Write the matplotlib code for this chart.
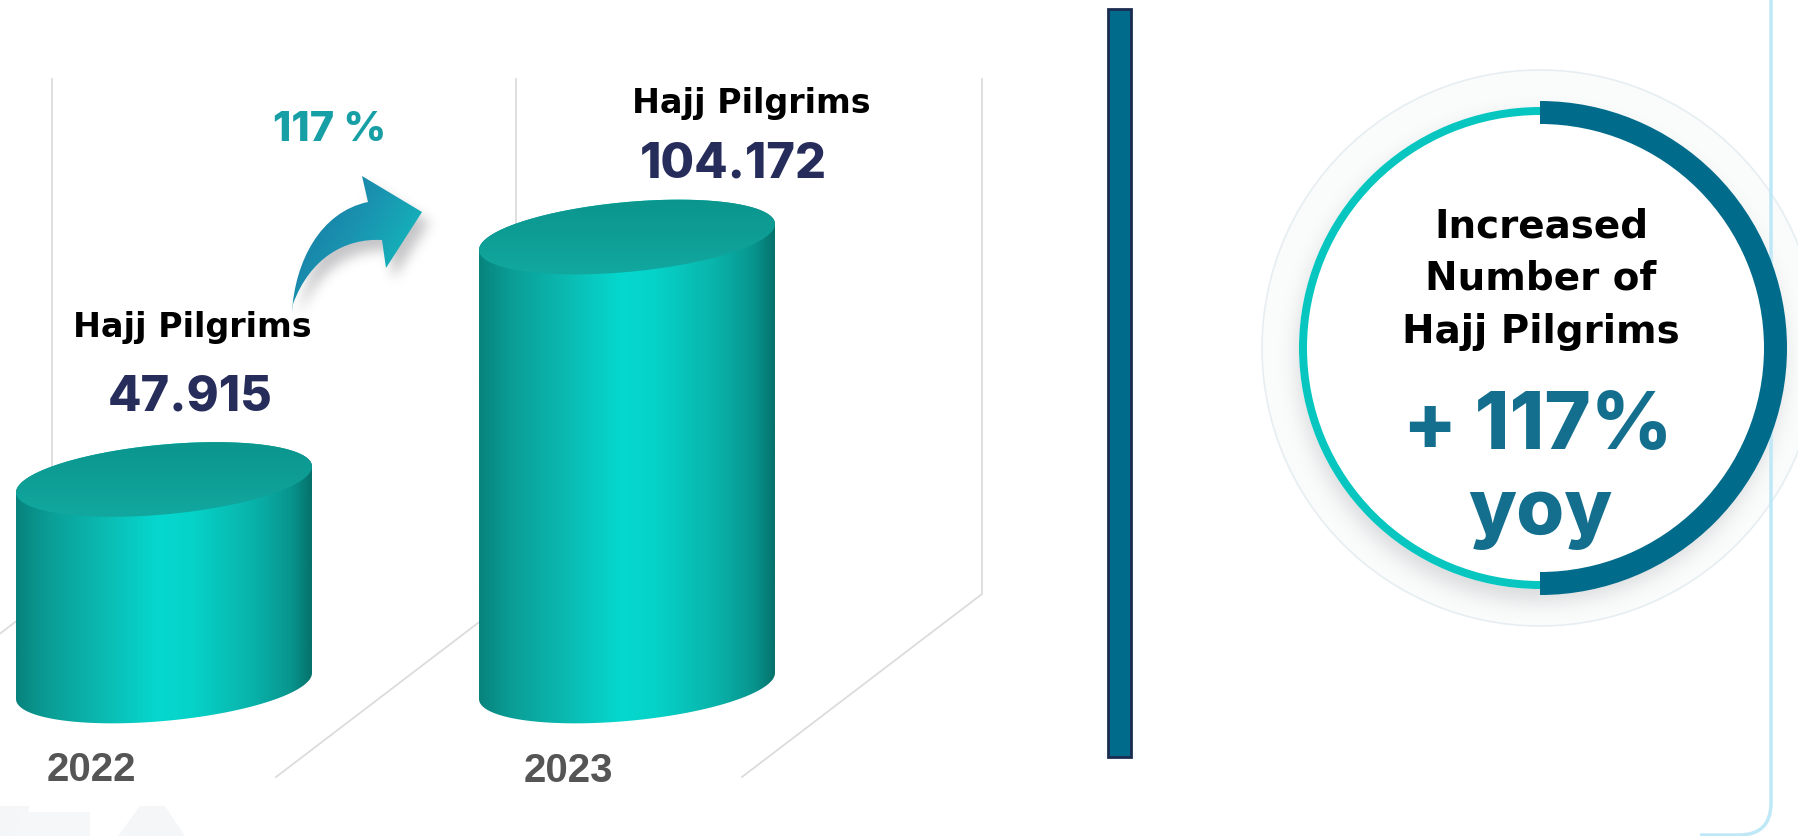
import numpy as np
import matplotlib
matplotlib.use("Agg")
import matplotlib.pyplot as plt
from matplotlib.colors import LinearSegmentedColormap
from matplotlib.patches import Circle, PathPatch, Polygon, Rectangle, Wedge
from matplotlib.path import Path

# Hajj pilgrims (thousands) by year
years = ["2022", "2023"]
pilgrims = [47.915, 104.172]
series_label = "Hajj Pilgrims"
growth_label = "117 %"
kpi_title = ["Increased", "Number of", "Hajj Pilgrims"]
kpi_value = "+ 117%"
kpi_unit = "yoy"

W, H = 1799, 836
NUM_FONT = ["Inter", "DejaVu Sans"]
TXT_FONT = ["DejaVu Sans"]
NAVY = "#272d5a"
DEEP = "#006b8a"
TEAL = "#07c6c0"

# cylinder layout (pixels): category spacing, value scale, floor line
CAT_X0, CAT_STEP = 164, 463
FLOOR_Y, PX_PER_VAL = 686, 4.31
RX = 148 / CAT_STEP          # half width in category units
RY = 35 / PX_PER_VAL         # ellipse half height in value units
SHEAR = 13 / PX_PER_VAL      # perspective tilt of the caps

fig = plt.figure(figsize=(W / 100, H / 100), dpi=100)
bg = fig.add_axes([0, 0, 1, 1])
bg.axis("off")
ax = fig.add_axes([0, 0, 1, 1])
ax.patch.set_alpha(0)
ax.axis("off")


def reset_limits():
    bg.set_xlim(0, W)
    bg.set_ylim(H, 0)
    ax.set_xlim(-CAT_X0 / CAT_STEP, (W - CAT_X0) / CAT_STEP)
    ax.set_ylim((FLOOR_Y - H) / PX_PER_VAL, FLOOR_Y / PX_PER_VAL)


def gradient(axis, clip, extent, stops, horizontal=True, zorder=2):
    cmap = LinearSegmentedColormap.from_list("g", stops)
    g = np.linspace(0, 1, 256)
    img = g[None, :] if horizontal else g[:, None]
    im = axis.imshow(img, cmap=cmap, extent=extent, aspect="auto", origin="lower",
                     interpolation="bilinear", zorder=zorder)
    im.set_clip_path(clip)


def soft_shadow(path, offset, sigma, alpha, color=(0.35, 0.35, 0.38), zorder=1):
    ext = path.get_extents()
    pad = 4 * sigma
    x0, x1 = ext.x0 - pad + offset[0], ext.x1 + pad + offset[0]
    y0, y1 = ext.y0 - pad + offset[1], ext.y1 + pad + offset[1]
    X, Y = np.meshgrid(np.arange(x0, x1), np.arange(y0, y1))
    pts = np.column_stack([X.ravel() - offset[0], Y.ravel() - offset[1]])
    m = path.contains_points(pts).reshape(X.shape).astype(float)
    k = np.exp(-0.5 * (np.arange(-3 * sigma, 3 * sigma + 1) / sigma) ** 2)
    k /= k.sum()
    m = np.apply_along_axis(lambda r: np.convolve(r, k, mode="same"), 1, m)
    m = np.apply_along_axis(lambda c: np.convolve(c, k, mode="same"), 0, m)
    rgba = np.zeros(m.shape + (4,))
    rgba[..., :3] = color
    rgba[..., 3] = m * alpha
    bg.imshow(rgba, extent=[x0, x1, y1, y0], origin="upper", zorder=zorder,
              interpolation="bilinear")


reset_limits()

# --- back wall / floor guide lines ---
for gx in [52, 516, 982]:
    bg.plot([gx, gx, gx - 240], [79, 594, 777], color="#dcdcdc", lw=1.3, zorder=1)

# --- cylinders ---
body_stops = [(0.0, "#08837d"), (0.1, "#0a9c94"), (0.3, "#0bbbb2"), (0.48, "#05d8cf"),
              (0.6, "#06d2c8"), (0.8, "#09b3aa"), (0.93, "#08958e"), (1.0, "#06726c")]
cap_stops = [(0.0, "#13aba2"), (0.5, "#0e9e96"), (1.0, "#0a938b")]
t = np.linspace(0, 2 * np.pi, 241)
for i, v in enumerate(pilgrims):
    front = t[(t >= np.pi)]
    back = t[(t <= np.pi)]
    bx = np.r_[i + RX * np.cos(front), i + RX * np.cos(back)]
    by = np.r_[RY * np.sin(front) + SHEAR * np.cos(front),
               v + RY * np.sin(back) + SHEAR * np.cos(back)]
    body = Polygon(np.column_stack([bx, by]), closed=True, fc="none", ec="none")
    ax.add_patch(body)
    gradient(ax, body, [i - RX, i + RX, -RY - SHEAR, v + RY + SHEAR], body_stops)
    cap = Polygon(np.column_stack([i + RX * np.cos(t), v + RY * np.sin(t) + SHEAR * np.cos(t)]),
                  closed=True, fc="none", ec="none")
    ax.add_patch(cap)
    gradient(ax, cap, [i - RX, i + RX, v - RY - SHEAR, v + RY + SHEAR], cap_stops,
             horizontal=False, zorder=3)

# labels above each cylinder (offsets in pixels from the cap centre)
label_off = [(28, 152), (124, 134)]
value_off = [(26, 82), (106, 73)]
year_off = [(-73, -84), (-59, -85)]
for i, v in enumerate(pilgrims):
    ax.annotate(series_label, (i, v), xytext=label_off[i], textcoords="offset pixels",
                ha="center", va="center", fontsize=24, fontweight="bold",
                family=TXT_FONT, color="black")
    ax.annotate(f"{v:.3f}", (i, v), xytext=value_off[i], textcoords="offset pixels",
                ha="center", va="center", fontsize=35, fontweight="heavy",
                family=NUM_FONT, color=NAVY)
    ax.annotate(years[i], (i, 0), xytext=year_off[i], textcoords="offset pixels",
                ha="center", va="center", fontsize=29, fontweight="bold",
                family=["Liberation Sans"], color="#555555")

# --- growth arrow ---
arrow = Path([(292, 312), (295, 262), (320, 212), (368, 202), (362, 176), (422, 212),
              (386, 268), (382, 240), (345, 238), (310, 258), (293, 304), (292, 312)],
             [Path.MOVETO, Path.CURVE4, Path.CURVE4, Path.CURVE4, Path.LINETO, Path.LINETO,
              Path.LINETO, Path.LINETO, Path.CURVE4, Path.CURVE4, Path.CURVE4, Path.CLOSEPOLY])
soft_shadow(arrow, (7, 10), 6, 0.35, zorder=1)
arrow_patch = PathPatch(arrow, fc="none", ec="none")
bg.add_patch(arrow_patch)
gx_, gy_ = np.meshgrid(np.linspace(0, 1, 200), np.linspace(0, 1, 200))
arrow_cmap = LinearSegmentedColormap.from_list(
    "arrow", [(0.0, "#1670a0"), (0.45, "#1a93b0"), (1.0, "#11cdc3")])
im = bg.imshow(0.6 * gx_ + 0.4 * gy_, cmap=arrow_cmap, extent=[288, 426, 316, 172],
               origin="upper", aspect="auto", interpolation="bilinear", zorder=2)
im.set_clip_path(arrow_patch)
bg.text(330, 130, growth_label, ha="center", va="center", fontsize=30,
        fontweight="heavy", family=NUM_FONT, color="#179fa6")

# --- divider ---
bg.add_patch(Rectangle((1108, 9), 23, 748, fc=DEEP, ec="#1c2b50", lw=2, zorder=2))

# --- KPI ring ---
CX, CY = 1540, 348
bg.add_patch(Circle((CX, CY), 278, fc="#fafbfb", ec="#e6eef2", lw=1.2, zorder=1))
ring_path = Path.circle((CX, CY), 243)
soft_shadow(ring_path, (0, 10), 10, 0.2, zorder=1)
bg.add_patch(Circle((CX, CY), 241, fc="white", ec="none", zorder=2))
bg.add_patch(Wedge((CX, CY), 241, 0, 360, width=8, fc=TEAL, ec="none", zorder=3))
bg.add_patch(Wedge((CX, CY), 247, -90, 90, width=23, fc=DEEP, ec="none", zorder=4))
for k, line in enumerate(kpi_title):
    bg.text(CX + 1, 226 + 53 * k, line, ha="center", va="center", fontsize=28,
            fontweight="bold", family=TXT_FONT, color="black", zorder=5)
bg.text(CX - 2, 428, kpi_value, ha="center", va="center", fontsize=57,
        fontweight="heavy", family=NUM_FONT, color="#146f8e", zorder=5)
bg.text(CX, 514, kpi_unit, ha="center", va="center", fontsize=56,
        fontweight="heavy", family=NUM_FONT, color="#146f8e", zorder=5)

# --- panel frame and faint watermark ---
frame = Path([(1771, 0), (1771, 803), (1771, 835), (1739, 835), (1700, 835)],
             [Path.MOVETO, Path.LINETO, Path.CURVE3, Path.CURVE3, Path.LINETO])
bg.add_patch(PathPatch(frame, fc="none", ec="#bfe8f7", lw=2.5, zorder=2))
bg.add_patch(Polygon([(0, 806), (30, 806), (18, 836), (0, 836)], fc="#f5f6f8", ec="none"))
bg.add_patch(Polygon([(20, 812), (90, 812), (90, 836), (14, 836)], fc="#f6f7f9", ec="none"))
bg.add_patch(Polygon([(140, 806), (165, 806), (185, 836), (118, 836)], fc="#f5f6f8", ec="none"))

reset_limits()
fig.savefig("out.png", dpi=100, facecolor="white")
